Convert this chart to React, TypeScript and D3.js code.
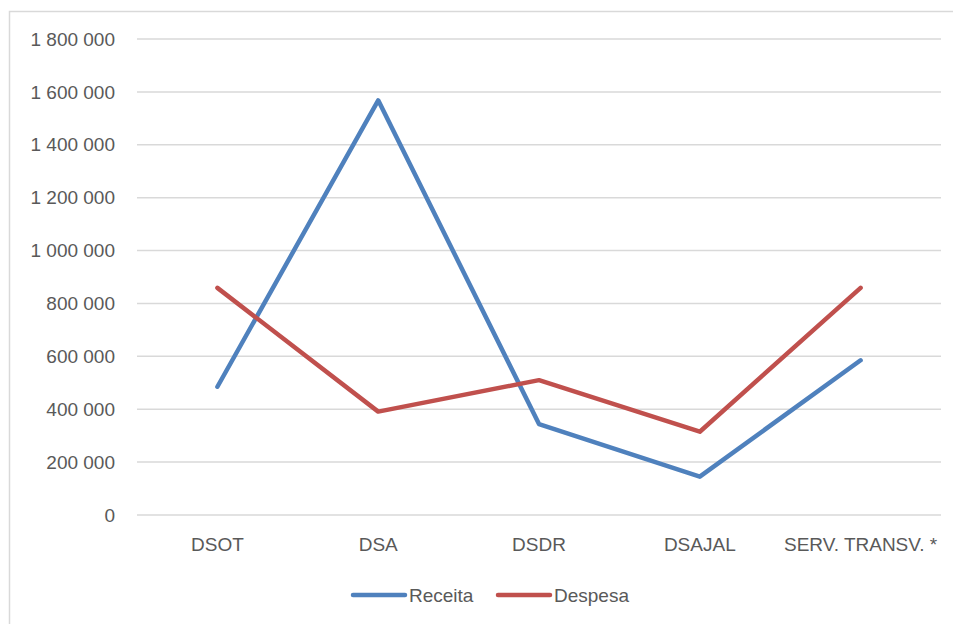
import React, { useEffect, useRef } from 'react';
import * as d3 from 'd3';

const categories = ['DSOT', 'DSA', 'DSDR', 'DSAJAL', 'SERV. TRANSV. *'];
const receita = [485000, 1568000, 344000, 145000, 585000];
const despesa = [859000, 391000, 510000, 315000, 859000];
const yTicks = [0, 200000, 400000, 600000, 800000, 1000000, 1200000, 1400000, 1600000, 1800000];
const seriesNames = ['Receita', 'Despesa'];

const W = 953;
const H = 624;
const FONT = '"Liberation Sans", Arial, sans-serif';

const App = () => {
    const ref = useRef<SVGSVGElement | null>(null);

    useEffect(() => {
        const svg = d3.select(ref.current);
        svg.selectAll('*').remove();

        const margin = { top: 39, right: 12, bottom: 109, left: 137 };
        const plotRight = W - margin.right;
        const plotBottom = H - margin.bottom;

        // chart area frame (runs off the right/bottom edge)
        svg.append('rect')
            .attr('x', 9.5)
            .attr('y', 11.5)
            .attr('width', W + 20)
            .attr('height', H + 20)
            .attr('fill', 'white')
            .attr('stroke', '#d9d9d9')
            .attr('stroke-width', 1.5);

        const xScale = d3.scaleBand<string>()
            .domain(categories)
            .range([margin.left, plotRight]);

        const yScale = d3.scaleLinear()
            .domain([0, 1800000])
            .range([plotBottom, margin.top]);

        const fmt = d3.formatLocale({
            thousands: ' ',
            grouping: [3],
            decimal: ',',
            currency: ['', ''],
        }).format(',d');

        // grid lines
        svg.append('g')
            .selectAll('line')
            .data(yTicks)
            .join('line')
            .attr('x1', margin.left)
            .attr('x2', plotRight)
            .attr('y1', d => yScale(d))
            .attr('y2', d => yScale(d))
            .attr('stroke', '#d9d9d9')
            .attr('stroke-width', 1.5);

        // y tick labels
        svg.append('g')
            .selectAll('text')
            .data(yTicks)
            .join('text')
            .attr('x', 115)
            .attr('y', d => yScale(d))
            .attr('dy', '0.35em')
            .attr('text-anchor', 'end')
            .attr('font-family', FONT)
            .attr('font-size', 19)
            .attr('fill', '#595959')
            .text(d => fmt(d));

        // x labels
        svg.append('g')
            .selectAll('text')
            .data(categories)
            .join('text')
            .attr('x', d => (xScale(d) as number) + xScale.bandwidth() / 2)
            .attr('y', 544)
            .attr('dy', '0.35em')
            .attr('text-anchor', 'middle')
            .attr('font-family', FONT)
            .attr('font-size', 19)
            .attr('fill', '#595959')
            .text(d => d);

        const line = d3.line<number>()
            .x((d, i) => (xScale(categories[i]) as number) + xScale.bandwidth() / 2)
            .y(d => yScale(d));

        const colors = ['#4f81bd', '#c0504d'];
        [receita, despesa].forEach((values, index) => {
            svg.append('path')
                .datum(values)
                .attr('d', line)
                .attr('fill', 'none')
                .attr('stroke', colors[index])
                .attr('stroke-width', 4.5)
                .attr('stroke-linejoin', 'round')
                .attr('stroke-linecap', 'round');
        });

        // legend
        const legendX = [353, 498];
        seriesNames.forEach((name, index) => {
            const g = svg.append('g').attr('transform', `translate(${legendX[index]},595)`);
            g.append('line')
                .attr('x1', 0)
                .attr('x2', 52)
                .attr('y1', 0)
                .attr('y2', 0)
                .attr('stroke', colors[index])
                .attr('stroke-width', 4.5)
                .attr('stroke-linecap', 'round');
            g.append('text')
                .attr('x', 56)
                .attr('y', 0)
                .attr('dy', '0.35em')
                .attr('font-family', FONT)
                .attr('font-size', 19)
                .attr('fill', '#595959')
                .text(name);
        });
    }, []);

    return (
        <div style={{ position: 'absolute', left: 0, top: 0 }}>
            <svg ref={ref} width={W} height={H} style={{ display: 'block' }}></svg>
        </div>
    );
};

export default App;
